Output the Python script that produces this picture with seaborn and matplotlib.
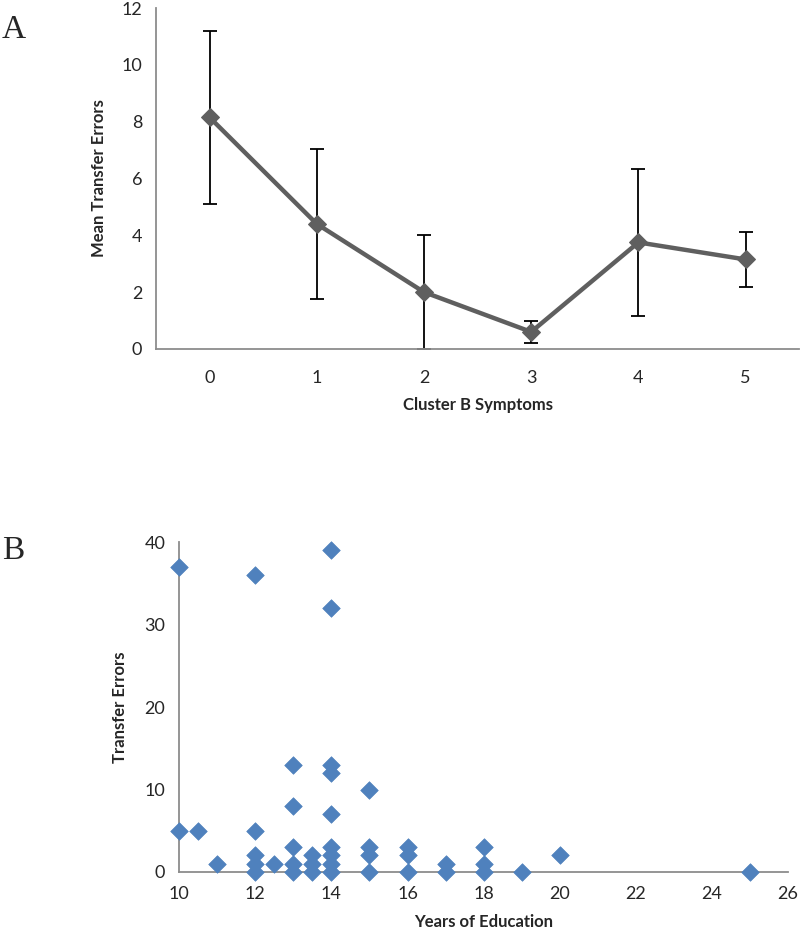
import matplotlib
matplotlib.use("Agg")
import matplotlib.pyplot as plt
import seaborn as sns
import numpy as np
import pandas as pd

# ---- Data ----
symptoms = [0, 1, 2, 3, 4, 5]
mean_errors = [8.15, 4.4, 2.0, 0.6, 3.75, 3.15]
err_sd = [3.05, 2.63, 2.0, 0.4, 2.58, 0.97]

edu_years = [10, 10, 10.5, 11,
             12, 12, 12, 12, 12, 12.5,
             13, 13, 13, 13, 13,
             13.5, 13.5, 13.5,
             14, 14, 14, 14, 14, 14, 14, 14, 14,
             15, 15, 15, 15,
             16, 16, 16,
             17, 17,
             18, 18, 18,
             19, 20, 25]
transfer_errors = [37, 5, 5, 1,
                   36, 5, 2, 1, 0, 1,
                   13, 8, 3, 1, 0,
                   2, 1, 0,
                   39, 32, 13, 12, 7, 3, 2, 1, 0,
                   10, 3, 2, 0,
                   3, 2, 0,
                   1, 0,
                   3, 1, 0,
                   0, 2, 0]

sns.set_theme(style="white")
plt.rcParams['font.family'] = ['Lato', 'DejaVu Sans']

fig = plt.figure(figsize=(8, 9.33), dpi=100)
axA = fig.add_axes([0.195, 0.626, 0.804, 0.3654])
axB = fig.add_axes([0.224, 0.0654, 0.761, 0.3536])

spine_c = "#8c8c8c"
tick_fs = 13
lab_fs = 12

# ---- Panel A ----
dfA = pd.DataFrame({"Cluster B Symptoms": symptoms, "Mean": mean_errors, "SD": err_sd})
axA.errorbar(dfA["Cluster B Symptoms"], dfA["Mean"], yerr=dfA["SD"], fmt="none",
             ecolor="black", elinewidth=1.3, capsize=5, capthick=1.3, zorder=2)
sns.lineplot(data=dfA, x="Cluster B Symptoms", y="Mean", ax=axA, color="#5f5f5f",
             linewidth=3.2, marker="D", markersize=9, markeredgecolor="#5f5f5f", zorder=3)
axA.set_xlim(-0.5, 5.5)
axA.set_ylim(0, 12)
axA.set_yticks(np.arange(0, 13, 2))
axA.set_xticks(np.arange(-0.5, 6, 1))
axA.set_xticklabels([])
axA.set_xticks(symptoms, minor=True)
axA.set_xticklabels([str(s) for s in symptoms], minor=True)
axA.tick_params(axis="x", which="major", length=5, width=1, color=spine_c, direction="out")
axA.tick_params(axis="x", which="minor", length=0, pad=15, labelsize=tick_fs)
axA.tick_params(axis="y", length=5, width=1, color=spine_c, direction="out", labelsize=tick_fs, pad=5)
axA.set_xlabel("Cluster B Symptoms", fontweight="bold", fontsize=lab_fs, labelpad=8)
axA.set_ylabel("Mean Transfer Errors", fontweight="bold", fontsize=lab_fs, labelpad=10)
for s in ["top", "right"]:
    axA.spines[s].set_visible(False)
for s in ["left", "bottom"]:
    axA.spines[s].set_color(spine_c)
    axA.spines[s].set_linewidth(1.3)

# ---- Panel B ----
dfB = pd.DataFrame({"Years of Education": edu_years, "Transfer Errors": transfer_errors})
sns.scatterplot(data=dfB, x="Years of Education", y="Transfer Errors", ax=axB,
                marker="D", s=80, color="#4f81bd", edgecolor="#4f81bd", linewidth=0.5,
                zorder=3, clip_on=False)
axB.set_xlim(10, 26)
axB.set_ylim(0, 40)
axB.set_xticks(np.arange(10, 27, 2))
axB.set_yticks(np.arange(0, 41, 10))
axB.tick_params(axis="both", length=5, width=1, color=spine_c, direction="out", labelsize=tick_fs)
axB.tick_params(axis="x", pad=5)
axB.tick_params(axis="y", pad=5)
axB.set_xlabel("Years of Education", fontweight="bold", fontsize=lab_fs, labelpad=9)
axB.set_ylabel("Transfer Errors", fontweight="bold", fontsize=lab_fs, labelpad=12)
for s in ["top", "right"]:
    axB.spines[s].set_visible(False)
for s in ["left", "bottom"]:
    axB.spines[s].set_color(spine_c)
    axB.spines[s].set_linewidth(1.3)

fig.text(0.002, 0.968, "A", fontsize=24, family=["Liberation Serif", "DejaVu Serif"], va="center")
fig.text(0.002, 0.410, "B", fontsize=24, family=["Liberation Serif", "DejaVu Serif"], va="center")

fig.savefig("out.png", dpi=100)
